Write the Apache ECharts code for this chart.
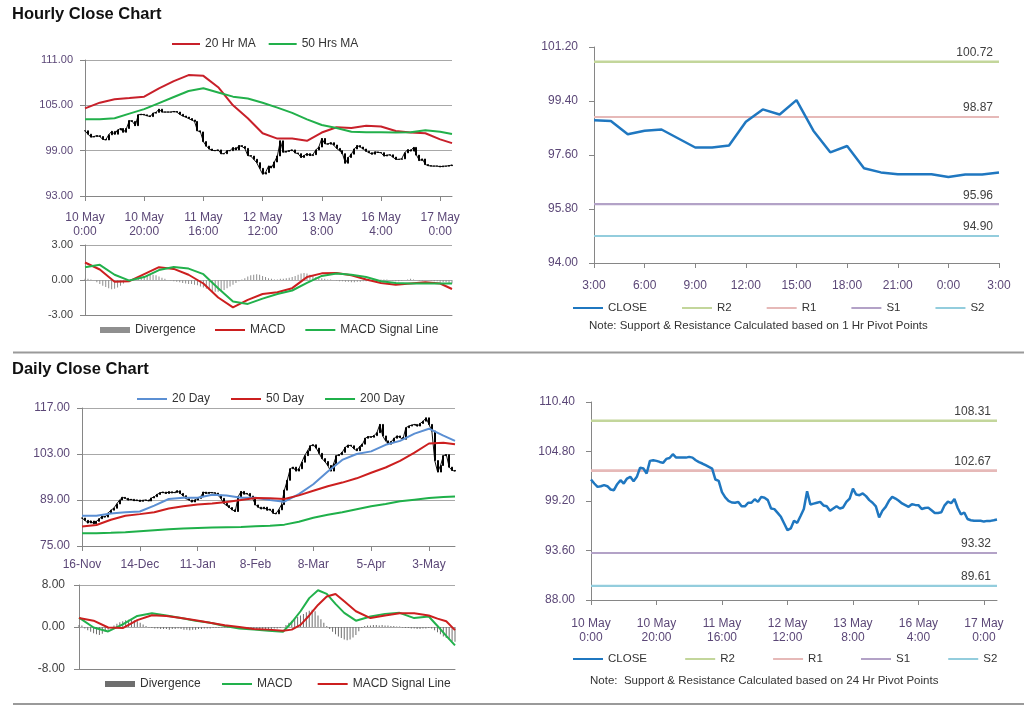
<!DOCTYPE html>
<html><head><meta charset="utf-8">
<script src="https://cdn.jsdelivr.net/npm/echarts@6/dist/echarts.min.js"></script>
<style>html,body{margin:0;padding:0;background:#fff}#c{width:1024px;height:706px}</style>
</head><body><div id="c"></div>
<script>
// ---------------- DATA ----------------
const hourTicks = ['10 May\n0:00','10 May\n20:00','11 May\n16:00','12 May\n12:00','13 May\n8:00','16 May\n4:00','17 May\n0:00'];
const dayTicks = ['16-Nov','14-Dec','11-Jan','8-Feb','8-Mar','5-Apr','3-May'];
const pivotHourTicks = ['3:00','6:00','9:00','12:00','15:00','18:00','21:00','0:00','3:00'];

const hourPriceTicks = [93, 99, 105, 111];
const hourMacdTicks = [-3, 0, 3];
const hourPivotTicks = [94, 95.8, 97.6, 99.4, 101.2];
const dayPriceTicks = [75, 89, 103, 117];
const dayMacdTicks = [-8, 0, 8];
const dayPivotTicks = [88, 93.6, 99.2, 104.8, 110.4];

// hourly close (10 May 0:00 .. 17 May 4:00)
const hourlyClose = [
 101.63,101.18,100.80,100.87,100.99,100.87,100.50,100.42,101.10,101.55,
 101.18,101.74,101.93,101.44,101.93,102.98,102.87,102.31,103.74,103.81,
 103.74,103.62,103.51,103.96,104.07,104.49,104.11,104.11,104.11,104.11,
 104.19,104.11,103.81,103.59,103.44,103.25,103.06,102.87,101.63,101.48,
 100.20,99.60,99.22,99.03,99.00,99.10,98.60,98.60,99.00,99.00,
 99.40,99.10,99.67,99.56,99.30,98.35,98.28,97.86,97.41,96.66,
 95.90,96.10,96.96,96.73,97.50,98.30,100.30,98.80,98.90,99.00,
 99.10,98.70,98.60,98.10,98.35,98.60,98.35,98.47,99.10,99.48,
 100.61,99.93,99.86,100.05,99.75,99.30,99.00,98.60,97.34,98.10,
 98.54,99.22,99.67,99.48,99.22,98.92,98.73,98.54,98.84,
 98.76,98.73,98.29,98.41,98.45,98.15,97.85,97.85,97.92,98.71,
 99.12,98.95,99.43,98.41,97.69,97.90,97.16,97.02,96.96,96.96,
 96.96,96.87,96.95,96.95,97.02,97.10
];
const hourMaIdx = [0,5,10,15,20,25,30,35,40,45,50,55,60,65,70,75,80,85,90,95,100,105,110,115,120,124];
const hourMA20 = [104.6,105.35,105.8,105.97,106.15,107.25,108.2,109.0,108.9,107.4,105.0,103.3,101.3,100.6,100.6,100.3,101.4,102.1,102.0,102.3,102.2,101.6,101.4,101.3,100.5,100.0];
const hourMA50 = [103.15,103.15,103.3,103.9,104.5,105.3,106.1,106.9,107.25,106.7,106.15,105.9,105.35,104.7,104.0,103.15,102.4,102.0,101.5,101.45,101.45,101.4,101.45,101.7,101.5,101.2];
const hourMACD = [1.5,0.9,-0.15,-0.1,0.5,1.1,0.95,0.45,-0.3,-1.5,-2.35,-1.7,-1.2,-1.05,-0.7,0.25,0.57,0.6,0.4,0.05,-0.25,-0.4,-0.3,-0.2,-0.3,-0.77];
const hourSignal = [1.1,1.3,0.45,-0.05,0.25,0.85,1.12,0.98,0.5,-0.7,-1.85,-2.05,-1.6,-1.2,-0.9,-0.25,0.35,0.55,0.45,0.25,-0.1,-0.25,-0.3,-0.3,-0.3,-0.3];
const hourDiv = [
 0.1,0.1,0.05,0,
 -0.2,-0.35,-0.5,-0.6,-0.7,-0.8,-0.75,-0.65,-0.5,-0.3,-0.15,
 -0.05,0.05,0.1,0.2,0.3,
 0.35,0.4,0.45,0.45,0.4,0.3,0.2,0.1,
 0,-0.05,-0.1,-0.15,-0.2,-0.25,
 -0.3,-0.35,-0.35,-0.4,-0.45,-0.55,-0.65,
 -0.75,-0.85,-0.95,-1.0,-1.0,-0.95,-0.85,-0.7,
 -0.55,-0.4,-0.25,-0.1,0.05,0.15,
 0.3,0.4,0.45,0.5,0.45,0.35,0.25,
 0.15,0.1,0.05,0.05,0.1,0.1,0.15,0.2,0.25,
 0.35,0.45,0.55,0.6,0.55,0.45,0.35,
 0.25,0.2,0.15,0.1,0.05,0.05,0,
 -0.05,-0.1,-0.1,-0.15,-0.15,-0.2,-0.2,-0.15,-0.15,-0.1,-0.1,
 -0.1,-0.05,-0.05,0,0.05,0.05,0.05,0,-0.05,-0.1,
 -0.1,-0.05,0,0.05,0.1,0.05,0,-0.05,-0.05,0,
 0,-0.05,-0.1,-0.1,-0.15,-0.2,-0.2,-0.25,-0.3
];

// hourly pivot panel (16 May 3:00 .. 17 May 3:00)
const hourPivotClose = [98.76,98.73,98.29,98.41,98.45,98.15,97.85,97.85,97.92,98.71,99.12,98.95,99.43,98.41,97.69,97.90,97.16,97.02,96.96,96.96,96.96,96.87,96.95,96.95,97.02];
const pivotNames = ['R2','R1','S1','S2'];
const hourPivots = [100.72, 98.87, 95.96, 94.90];
const dayPivots = [108.31, 102.67, 93.32, 89.61];

// daily close (16 Nov .. mid May)
const dailyClose = [
 83.5,82.8,82.0,82.6,81.8,82.5,83.3,84.0,83.8,85.0,
 85.9,86.5,87.8,89.0,89.8,89.5,89.0,89.2,88.8,89.0,
 88.6,88.9,89.0,88.7,89.6,90.0,90.7,91.2,91.4,91.0,
 91.5,91.2,91.3,91.8,91.0,90.3,89.4,89.0,88.4,89.0,
 89.5,90.0,91.4,91.0,91.3,91.2,91.1,90.5,89.5,88.0,
 87.3,86.7,86.0,85.5,90.0,91.6,90.8,91.0,90.2,89.5,
 87.5,86.8,86.3,86.8,85.9,86.2,85.0,84.8,86.0,87.6,
 92.0,95.0,98.5,99.0,97.8,98.5,100.5,102.5,104.0,105.5,
 105.8,104.8,103.2,101.6,100.7,99.5,97.8,100.0,102.5,102.8,
 103.5,105.0,105.7,105.5,104.6,104.0,105.3,106.0,107.8,108.3,
 108.1,108.6,109.5,112.0,108.5,107.0,106.0,106.8,107.8,108.5,
 108.0,107.5,111.0,111.5,111.8,112.0,111.5,112.3,113.0,114.0,
 112.0,110.0,101.0,97.5,99.5,102.5,102.8,99.0,98.0,97.8
];
const dayMaIdx = [0,5,10,15,20,25,30,35,40,45,50,55,60,65,70,75,80,85,90,95,100,105,110,115,120,125,129];
const dayMA20 = [84.2,84.2,84.9,85.3,85.5,87.3,89.3,89.7,89.7,90.6,90.4,89.7,89.7,89.0,88.5,90.8,93.8,97.7,101.2,103.0,103.8,105.8,107.0,109.2,110.7,108.6,107.0];
const dayMA50 = [80.9,81.4,83.0,84.2,84.7,85.3,86.4,87.1,87.6,87.9,88.4,89.0,89.6,89.5,89.3,90.4,91.8,93.2,94.3,95.6,97.3,98.9,100.9,103.4,106.2,106.4,106.0];
const dayMA200 = [78.9,78.9,79.0,79.2,79.5,79.8,80.1,80.3,80.5,80.6,80.7,80.8,81.0,81.2,81.5,82.4,83.6,84.5,85.3,86.2,87.1,87.8,88.6,89.1,89.6,89.9,90.1];
const dayMacdIdx = [0,5,10,15,20,25,30,35,40,45,50,55,60,65,70,73,76,79,82,85,88,91,95,100,105,110,115,120,123,126,129];
const dayMACD = [1.8,-0.1,-0.85,0.5,2.1,2.6,2.2,1.7,1.2,0.8,0.2,-0.3,-0.5,-0.7,-0.9,0.9,3.0,5.5,7.0,6.3,4.4,2.7,1.2,2.0,2.5,2.7,1.7,2.0,0.2,-1.7,-3.5];
const daySignal = [1.7,1.2,-0.1,-0.2,1.3,2.25,2.1,1.7,1.3,0.8,0.35,0.0,-0.4,-0.5,-0.7,-0.5,0.4,2.2,4.2,5.8,6.3,4.9,3.0,1.7,2.2,2.6,2.6,2.2,1.6,1.1,-0.6];
const dayDiv = [
 0.4,0.3,
 -0.3,-0.6,-0.9,-1.2,-1.4,-1.5,-1.3,-0.9,
 -0.5,-0.1,
 0.3,0.6,0.9,1.1,1.3,1.4,1.4,1.3,1.1,0.8,0.5,0.2,
 -0.1,-0.2,-0.3,-0.3,-0.4,-0.4,-0.4,-0.5,-0.4,-0.4,-0.3,-0.4,-0.5,-0.5,-0.6,-0.5,-0.5,-0.4,-0.4,-0.3,-0.3,-0.3,-0.2,-0.2,-0.2,-0.1,-0.1,
 -0.1,-0.2,-0.2,-0.3,-0.3,-0.3,-0.4,-0.4,-0.4,-0.4,-0.5,-0.5,-0.5,-0.5,-0.4,-0.4,-0.3,-0.3,-0.2,0.0,
 0.4,0.8,1.2,1.6,1.9,2.2,2.5,2.8,3.1,3.3,3.0,2.2,
 1.5,0.8,0.2,
 -0.4,-0.9,-1.4,-1.8,-2.1,-2.4,-2.5,-2.4,-2.0,-1.5,-0.8,
 -0.2,0.2,0.3,0.3,0.4,0.4,0.3,0.4,0.3,0.3,0.2,0.2,0.1,0.1,
 -0.1,-0.2,-0.2,-0.3,-0.3,-0.4,-0.4,-0.3,-0.3,-0.2,-0.3,
 -0.6,-1.0,-1.4,-1.8,-2.1,-2.4,-2.7,-2.8
];

// ---------------- STYLE / BUILD ----------------
const FONT = "'Liberation Sans', Arial, sans-serif";
const PURPLE = '#5b4777';
const DARK = '#404040';
const AXC = '#868686';
const GRC = '#a8a8a8';
const pivotColors = ['#c3d69b', '#e6b9b8', '#b3a2c7', '#93cddd'];
const CLOSE_C = '#1f77c0';

const pairs = (idx, vals) => idx.map((x, i) => [x, vals[i]]);
const ohlc = arr => arr.map((c, i) => { const o = i ? arr[i - 1] : c; return [o, c, Math.min(o, c), Math.max(o, c)]; });
const hourCats = hourlyClose.map((_, i) => String(i));
const dayCats = dailyClose.map((_, i) => String(i));
const pivCats = hourPivotClose.map((_, i) => String(i));

function xCat(grid, cats, every, ticks, labelOpts) {
  return {
    gridIndex: grid, type: 'category', data: cats, boundaryGap: false,
    axisLine: { show: true, onZero: false, lineStyle: { color: AXC } },
    axisTick: { show: !!ticks, interval: every - 1, length: 5, lineStyle: { color: AXC } },
    axisLabel: ticks ? Object.assign({ interval: every - 1, formatter: (v, i) => ticks[i / every] || '', color: PURPLE, fontSize: 12, lineHeight: 14, fontFamily: FONT }, labelOpts) : { show: false },
    splitLine: { show: false }
  };
}
function yVal(grid, ticks, color, fs, margin, split) {
  return {
    gridIndex: grid, type: 'value', min: ticks[0], max: ticks[ticks.length - 1],
    axisLine: { show: true, lineStyle: { color: AXC } },
    axisTick: { show: true, length: 5, customValues: ticks, lineStyle: { color: AXC } },
    axisLabel: { customValues: ticks, formatter: v => v.toFixed(2), color: color, fontSize: fs, margin: margin, fontFamily: FONT },
    splitLine: { show: split, lineStyle: { color: GRC, width: 1 } }
  };
}
function lineS(name, xi, data, color, width, z) {
  return { name, type: 'line', xAxisIndex: xi, yAxisIndex: xi, data, symbol: 'none', color,
    lineStyle: { color, width }, z: z || 3, silent: true };
}
function pivotSeries(xi, values, suffix, lastIdx) {
  return pivotNames.map((n, k) => ({
    name: n + suffix, type: 'line', xAxisIndex: xi, yAxisIndex: xi, symbol: 'none', silent: true,
    color: pivotColors[k], lineStyle: { color: pivotColors[k], width: 2 }, z: 2,
    data: [[0, values[k]], [lastIdx, values[k]]],
    markLine: { silent: true, symbol: 'none', data: [{ yAxis: values[k] }],
      lineStyle: { color: pivotColors[k], width: 2, type: 'solid' },
      label: { show: true, position: 'insideEndTop', distance: [6, 3], formatter: () => values[k].toFixed(2), color: DARK, fontSize: 12, fontFamily: FONT } }
  }));
}
const candle = (xi, arr, w) => ({ type: 'candlestick', xAxisIndex: xi, yAxisIndex: xi, data: ohlc(arr), barWidth: w, silent: true, z: 2,
  itemStyle: { color: '#000', color0: '#000', borderColor: '#000', borderColor0: '#000', borderWidth: 1 } });
const blackLine = (xi, arr, w) => ({ type: 'line', xAxisIndex: xi, yAxisIndex: xi, data: arr, symbol: 'none', silent: true, z: 2,
  lineStyle: { color: '#111', width: w } });

const legendBase = { orient: 'horizontal', itemWidth: 30, itemHeight: 2, icon: 'rect', selectedMode: false, padding: 0,
  textStyle: { fontSize: 12, color: '#333', fontFamily: FONT } };
const L = o => Object.assign({}, legendBase, o);

const option = {
  animation: false,
  textStyle: { fontFamily: FONT },
  grid: [
    { left: 85, top: 60, width: 367, height: 136 },
    { left: 85, top: 245, width: 367, height: 70 },
    { left: 594, top: 47, width: 405, height: 216 },
    { left: 82, top: 408, width: 373, height: 138 },
    { left: 79, top: 585, width: 376, height: 84 },
    { left: 591, top: 402, width: 406, height: 198 }
  ],
  xAxis: [
    xCat(0, hourCats, 20, hourTicks, { margin: 15 }),
    xCat(1, hourCats, 20, null),
    xCat(2, pivCats, 3, pivotHourTicks, { margin: 16 }),
    xCat(3, dayCats, 20, dayTicks, { margin: 12 }),
    xCat(4, dayCats, 20, null),
    xCat(5, hourCats, 20, hourTicks, { margin: 17 })
  ],
  yAxis: [
    yVal(0, hourPriceTicks, PURPLE, 11, 12, true),
    yVal(1, hourMacdTicks, DARK, 11, 12, true),
    yVal(2, hourPivotTicks, PURPLE, 12, 16, false),
    yVal(3, dayPriceTicks, PURPLE, 12, 12, true),
    yVal(4, dayMacdTicks, DARK, 12, 14, true),
    yVal(5, dayPivotTicks, PURPLE, 12, 16, false)
  ],
  legend: [
    L({ data: ['20 Hr MA', '50 Hrs MA'], left: 172, top: 38, itemWidth: 28, itemGap: 13 }),
    L({ data: ['Divergence'], left: 100, top: 324, itemHeight: 6 }),
    L({ data: ['MACD', 'MACD Signal Line'], left: 215, top: 324, itemGap: 20 }),
    L({ data: ['CLOSE', 'R2', 'R1', 'S1', 'S2'], left: 573, top: 302, itemGap: 35, textStyle: { fontSize: 11.5, color: '#333', fontFamily: FONT } }),
    L({ data: ['20 Day', '50 Day', '200 Day'], left: 137, top: 393, itemGap: 21 }),
    L({ data: ['Divergence '], left: 105, top: 678, itemHeight: 6 }),
    L({ data: ['MACD ', 'MACD Signal Line '], left: 222, top: 678, itemGap: 22 }),
    L({ data: ['CLOSE ', 'R2 ', 'R1 ', 'S1 ', 'S2 '], left: 573, top: 653, itemGap: 35, textStyle: { fontSize: 11.5, color: '#333', fontFamily: FONT } })
  ],
  graphic: [
    { type: 'text', left: 12, top: 6, style: { text: 'Hourly Close Chart', font: 'bold 16.5px ' + FONT, fill: '#111' } },
    { type: 'text', left: 12, top: 361, style: { text: 'Daily Close Chart', font: 'bold 16.5px ' + FONT, fill: '#111' } },
    { type: 'line', shape: { x1: 13, y1: 352.5, x2: 1024, y2: 352.5 }, style: { stroke: '#9a9a9a', lineWidth: 2 } },
    { type: 'line', shape: { x1: 13, y1: 704, x2: 1024, y2: 704 }, style: { stroke: '#9a9a9a', lineWidth: 2 } },
    { type: 'text', left: 589, top: 320, style: { text: 'Note: Support & Resistance Calculated based on 1 Hr Pivot Points', font: '11.5px ' + FONT, fill: '#333' } },
    { type: 'text', left: 590, top: 675, style: { text: 'Note:  Support & Resistance Calculated based on 24 Hr Pivot Points', font: '11.5px ' + FONT, fill: '#333' } }
  ],
  series: [
    // hourly price
    blackLine(0, hourlyClose, 1),
    candle(0, hourlyClose, 1.5),
    lineS('20 Hr MA', 0, pairs(hourMaIdx, hourMA20), '#c8202a', 2),
    lineS('50 Hrs MA', 0, pairs(hourMaIdx, hourMA50), '#22b04b', 2),
    // hourly MACD
    { name: 'Divergence', type: 'bar', xAxisIndex: 1, yAxisIndex: 1, data: hourDiv, barWidth: 1, color: '#8f8f8f', silent: true },
    lineS('MACD', 1, pairs(hourMaIdx, hourMACD), '#cc1f1f', 2),
    lineS('MACD Signal Line', 1, pairs(hourMaIdx, hourSignal), '#22b14c', 2),
    // hourly pivot
    lineS('CLOSE', 2, hourPivotClose, CLOSE_C, 2.5, 5),
    ...pivotSeries(2, hourPivots, '', hourPivotClose.length - 1),
    // daily price
    blackLine(3, dailyClose, 1),
    candle(3, dailyClose, 1.5),
    lineS('20 Day', 3, pairs(dayMaIdx, dayMA20), '#5b8fd3', 2),
    lineS('50 Day', 3, pairs(dayMaIdx, dayMA50), '#cc1f1f', 2),
    lineS('200 Day', 3, pairs(dayMaIdx, dayMA200), '#1fb04a', 2),
    // daily MACD
    { name: 'Divergence ', type: 'bar', xAxisIndex: 4, yAxisIndex: 4, data: dayDiv, barWidth: 1, color: '#6e6e6e', silent: true },
    lineS('MACD ', 4, pairs(dayMacdIdx, dayMACD), '#22b14c', 2),
    lineS('MACD Signal Line ', 4, pairs(dayMacdIdx, daySignal), '#cc1f1f', 2),
    // daily pivot
    lineS('CLOSE ', 5, hourlyClose, CLOSE_C, 2.5, 5),
    ...pivotSeries(5, dayPivots, ' ', hourlyClose.length - 1)
  ]
};
const chart = echarts.init(document.getElementById('c'), null, { renderer: 'canvas' });
chart.setOption(option);
</script></body></html>
